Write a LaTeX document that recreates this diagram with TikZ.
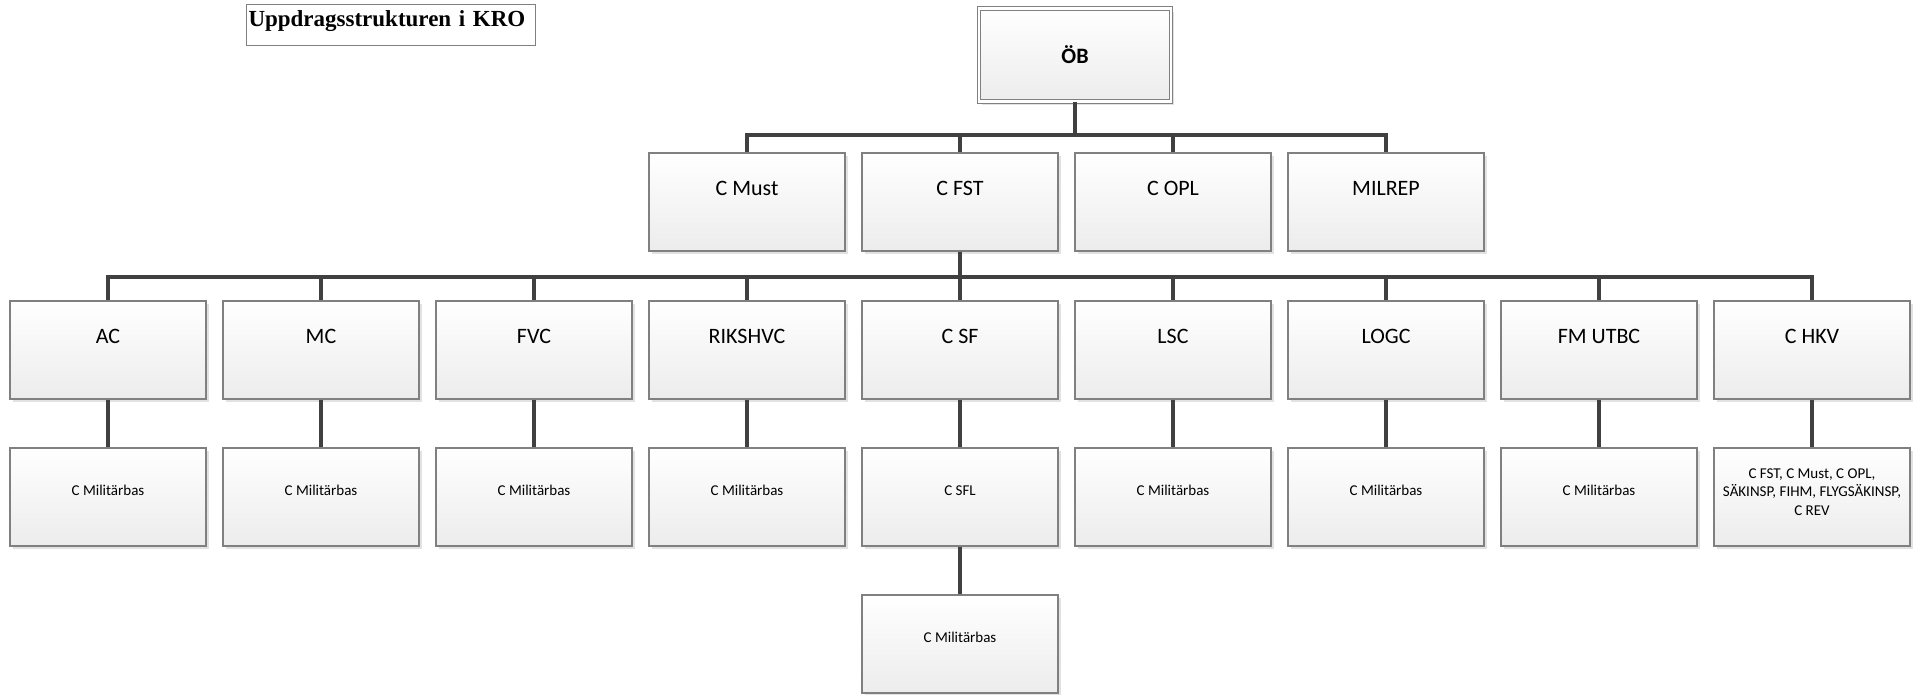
\documentclass[tikz,border=0pt]{standalone}
\usepackage{fontspec}
\setmainfont{Carlito}
\newfontfamily\titlefont{Liberation Serif}
\usetikzlibrary{shadows}
\definecolor{boxline}{RGB}{128,128,128}
\definecolor{linkline}{RGB}{64,64,64}
\definecolor{boxshade}{RGB}{236,236,236}
\definecolor{shadowgray}{RGB}{226,226,226}

\begin{document}
\begin{tikzpicture}[x=1pt, y=-1pt,
        unit/.style={draw=boxline, line width=1.3pt, top color=white, bottom color=boxshade,
            minimum width=196pt, minimum height=98pt, inner sep=0pt,
            drop shadow={shadow xshift=3pt, shadow yshift=-3pt, fill=shadowgray, opacity=1}},
        bigunit/.style={unit, font=\fontsize{22}{26}\selectfont, text height=42pt, text depth=56pt},
        basunit/.style={unit, font=\fontsize{15}{18.5}\selectfont},
        smallunit/.style={basunit, text height=47pt, text depth=51pt},
        link/.style={draw=linkline, line width=4pt}]
            \useasboundingbox (0,0) rectangle (1926,694);

            \node[draw=boxline, line width=1pt, anchor=north west, minimum width=289pt, minimum height=41pt,
                text width=285pt, align=left, inner xsep=2pt, inner ysep=0pt, text height=22pt, text depth=19pt,
                font=\titlefont\bfseries\fontsize{23}{27}\selectfont] (title) at (246,4) {Uppdragsstrukturen i KRO};

            \node[unit, minimum width=192pt, minimum height=93pt, line width=1pt, double=white, double distance=2.5pt,
                font=\bfseries\fontsize{22}{26}\selectfont] (ob) at (1075,55) {ÖB};

            \node[bigunit] (must) at (747,202) {C Must};
            \node[bigunit] (fst) at (960,202) {C FST};
            \node[bigunit] (opl) at (1173,202) {C OPL};
            \node[bigunit] (milrep) at (1386,202) {MILREP};

            \node[bigunit] (ac) at (108,350) {AC};
            \node[bigunit] (mc) at (321,350) {MC};
            \node[bigunit] (fvc) at (534,350) {FVC};
            \node[bigunit] (rikshvc) at (747,350) {RIKSHVC};
            \node[bigunit] (csf) at (960,350) {C SF};
            \node[bigunit] (lsc) at (1173,350) {LSC};
            \node[bigunit] (logc) at (1386,350) {LOGC};
            \node[bigunit] (fmutbc) at (1599,350) {FM UTBC};
            \node[bigunit] (chkv) at (1812,350) {C HKV};

            \node[smallunit] (acbas) at (108,497) {C Militärbas};
            \node[smallunit] (mcbas) at (321,497) {C Militärbas};
            \node[smallunit] (fvcbas) at (534,497) {C Militärbas};
            \node[smallunit] (rikshvcbas) at (747,497) {C Militärbas};
            \node[smallunit] (sfl) at (960,497) {C SFL};
            \node[smallunit] (lscbas) at (1173,497) {C Militärbas};
            \node[smallunit] (logcbas) at (1386,497) {C Militärbas};
            \node[smallunit] (fmutbcbas) at (1599,497) {C Militärbas};
            \node[basunit, align=center, text height=67pt, text depth=31pt] (hkvstab) at (1812,497)
                {C FST, C Must, C OPL,\\SÄKINSP, FIHM, FLYGSÄKINSP,\\C REV};

            \node[smallunit] (sflbas) at (960,644) {C Militärbas};

            \coordinate (obbar) at (1075,135);
            \draw[link] (ob) -- (obbar) -| (must.north);
            \draw[link] (obbar) -| (fst.north);
            \draw[link] (obbar) -| (opl.north);
            \draw[link] (obbar) -| (milrep.north);

            \coordinate (fstbar) at (960,277);
            \draw[link] (fst) -- (fstbar) -| (ac.north);
            \draw[link] (fstbar) -| (mc.north);
            \draw[link] (fstbar) -| (fvc.north);
            \draw[link] (fstbar) -| (rikshvc.north);
            \draw[link] (fstbar) -- (csf.north);
            \draw[link] (fstbar) -| (lsc.north);
            \draw[link] (fstbar) -| (logc.north);
            \draw[link] (fstbar) -| (fmutbc.north);
            \draw[link] (fstbar) -| (chkv.north);

            \draw[link] (ac) -- (acbas);
            \draw[link] (mc) -- (mcbas);
            \draw[link] (fvc) -- (fvcbas);
            \draw[link] (rikshvc) -- (rikshvcbas);
            \draw[link] (csf) -- (sfl);
            \draw[link] (lsc) -- (lscbas);
            \draw[link] (logc) -- (logcbas);
            \draw[link] (fmutbc) -- (fmutbcbas);
            \draw[link] (chkv) -- (hkvstab);
            \draw[link] (sfl) -- (sflbas);
        \end{tikzpicture}
\end{document}
